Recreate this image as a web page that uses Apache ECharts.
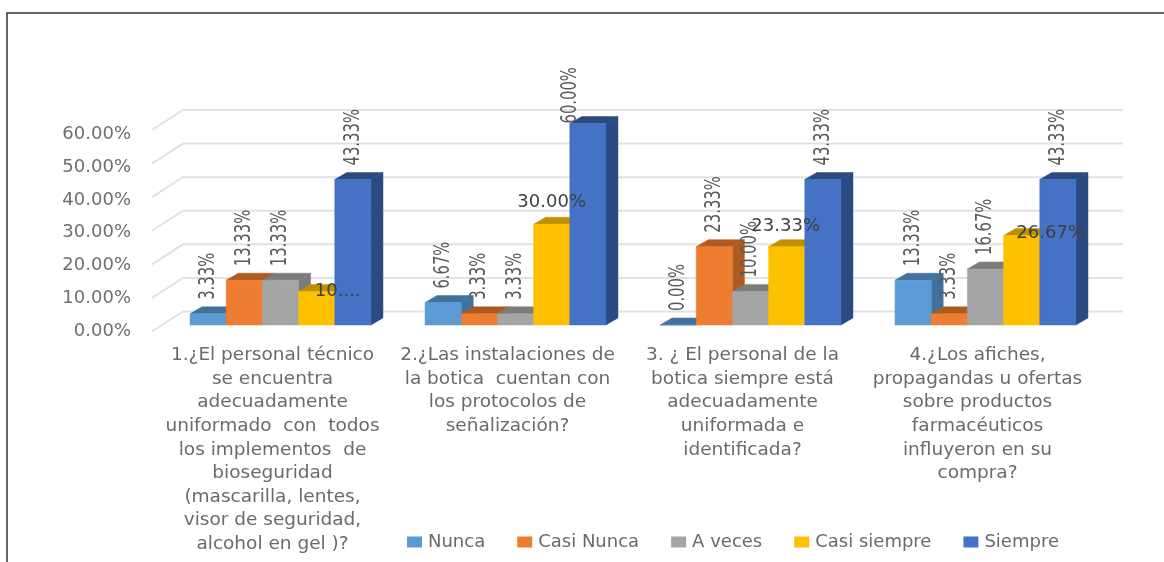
<!DOCTYPE html>
<html><head><meta charset="utf-8">
<style>html,body{margin:0;padding:0;background:#fff}#c{width:1164px;height:562px}</style>
<script src="https://cdn.jsdelivr.net/npm/echarts@6/dist/echarts.min.js"></script>
</head><body><div id="c"></div>
<script>
var categories = [
 "1.¿El personal técnico\nse encuentra\nadecuadamente\nuniformado  con  todos\nlos implementos  de\nbioseguridad\n(mascarilla, lentes,\nvisor de seguridad,\nalcohol en gel )?",
 "2.¿Las instalaciones de\nla botica  cuentan con\nlos protocolos de\nseñalización?",
 "3. ¿ El personal de la\nbotica siempre está\nadecuadamente\nuniformada e\nidentificada?",
 "4.¿Los afiches,\npropagandas u ofertas\nsobre productos\nfarmacéuticos\ninfluyeron en su\ncompra?"
];
var seriesNames = ["Nunca","Casi Nunca","A veces","Casi siempre","Siempre"];
var nunca = [3.33, 6.67, 0, 13.33];
var casiNunca = [13.33, 3.33, 23.33, 3.33];
var aVeces = [13.33, 3.33, 10, 16.67];
var casiSiempre = [10, 30, 23.33, 26.67];
var siempre = [43.33, 60, 43.33, 43.33];
var gridValues = [0,10,20,30,40,50,60];

var allValues = [nunca,casiNunca,aVeces,casiSiempre,siempre];
var frontColors = ["#5b9bd5","#ed7d31","#a5a5a5","#ffc000","#4472c4"];
var darkColors = ["#41719c","#ae5a21","#7c7c7c","#bf9000","#2b4a82"];
var DX = 12, DY = 7, GAP = 0.77;
var FONT = "DejaVu Sans";
// label placement: horizontal labels and nudges, keyed series-category
var labelFix = {
 "3-0": {h:1, text:"10....", dx:21, dy:0},
 "3-1": {h:1, dx:0, dy:-22},
 "3-2": {h:1, dx:-1, dy:-20},
 "3-3": {h:1, dx:29, dy:-2},
 "4-1": {dx:-18, up:0}
};
function barRect(api, si){
  var cat = api.value(0), val = api.value(1);
  var band = api.size([1,0])[0];
  var w = band*GAP/5;
  var top = api.coord([cat,val]);
  var base = api.coord([cat,0]);
  var left = top[0]-band*GAP/2 + si*w;
  return {left:left,w:w,top:top[1],base:base[1]};
}
function poly(points,fill,stroke){
  return {type:'polygon',shape:{points:points},style:{fill:fill,stroke:stroke||fill,lineWidth:0.5}};
}
var series = [];
series.push({
  type:'custom', name:'grid', coordinateSystem:'cartesian2d', xAxisIndex:0,yAxisIndex:0, z:1, silent:true,
  data: gridValues.map(function(v){return [0,v];}),
  encode:{x:0,y:1},
  renderItem:function(params,api){
    var cs = params.coordSys;
    var y = api.coord([0,api.value(1)])[1];
    return {type:'polyline',shape:{points:[[cs.x-11,y+6.5],[cs.x+20,y-13.5],[cs.x+cs.width+20,y-13.5]]},
      style:{fill:null,stroke:'#e2e2e2',lineWidth:2}};
  }
});
seriesNames.forEach(function(name,si){
  var d = allValues[si].map(function(v,i){return [i,v];});
  series.push({
    type:'custom',name:name,coordinateSystem:'cartesian2d',xAxisIndex:0,yAxisIndex:0,z:2+si,silent:true,
    itemStyle:{color:frontColors[si]},
    data:d,encode:{x:0,y:1},
    renderItem:function(params,api){
      var r = barRect(api,si), l=r.left, w=r.w, t=r.top, b=r.base;
      return {type:'group',children:[
        poly([[l+w,t],[l+w+DX,t-DY],[l+w+DX,b-DY],[l+w,b]],darkColors[si]),
        poly([[l,t],[l+DX,t-DY],[l+w+DX,t-DY],[l+w,t]],darkColors[si]),
        poly([[l,t],[l+w,t],[l+w,b],[l,b]],frontColors[si])
      ]};
    }
  });
  series.push({
    type:'custom',name:name+' labels',coordinateSystem:'cartesian2d',xAxisIndex:0,yAxisIndex:0,z:20,silent:true,
    data:d,encode:{x:0,y:1},
    renderItem:function(params,api){
      var cat=api.value(0),val=api.value(1);
      var r = barRect(api,si), cx=r.left+r.w/2;
      var fix = labelFix[si+'-'+cat]||{};
      var txt = fix.text || (val.toFixed(2)+'%');
      if(fix.h){
        return {type:'text',x:cx+(fix.dx||0),y:r.top+(fix.dy||0),
          style:{text:txt,align:'center',verticalAlign:'middle',fill:'#404040',font:'18px "'+FONT+'"'}};
      }
      var up = fix.up===undefined?14:fix.up;
      return {type:'text',x:cx+(fix.dx||0),y:r.top-up,rotation:Math.PI/2,scaleX:0.74,scaleY:1.1,
        style:{text:txt,align:'left',verticalAlign:'middle',fill:'#5a5a5a',font:'20px "'+FONT+'"'}};
    }
  });
});
var chart = echarts.init(document.getElementById('c'));
chart.setOption({
  animation:false,
  backgroundColor:'#fff',
  graphic:[{type:'polyline',shape:{points:[[7,562],[7,13],[1164,13]]},style:{fill:null,stroke:'#333',lineWidth:1.5},silent:true}],
  legend:{
    left:402,top:528,itemWidth:15,itemHeight:11,itemGap:32,icon:'rect',
    data:seriesNames,selectedMode:false,
    textStyle:{fontFamily:FONT,fontSize:18,color:'#6a6a6a',padding:[0,0,0,1]}
  },
  grid:[
    {left:163,width:940,top:123.5,height:201.5},
    {left:155,width:940,top:134,height:197.5}
  ],
  xAxis:[
    {gridIndex:0,type:'category',data:categories,axisLine:{show:false},axisTick:{show:false},axisLabel:{show:false},splitLine:{show:false}},
    {gridIndex:1,type:'category',data:categories,axisLine:{show:false},axisTick:{show:false},splitLine:{show:false},
     axisLabel:{margin:12,interval:0,fontFamily:FONT,fontSize:18.5,lineHeight:23.6,color:'#6a6a6a',align:'center',verticalAlign:'top'}}
  ],
  yAxis:[
    {gridIndex:0,type:'value',min:0,max:60,interval:10,axisLine:{show:false},axisTick:{show:false},axisLabel:{show:false},splitLine:{show:false}},
    {gridIndex:1,type:'value',min:0,max:60,interval:10,axisLine:{show:false},axisTick:{show:false},splitLine:{show:false},
     axisLabel:{margin:24,fontFamily:FONT,fontSize:18,color:'#6f6f6f',formatter:function(v){return v.toFixed(2)+'%';}}}
  ],
  series:series
});
</script></body></html>
